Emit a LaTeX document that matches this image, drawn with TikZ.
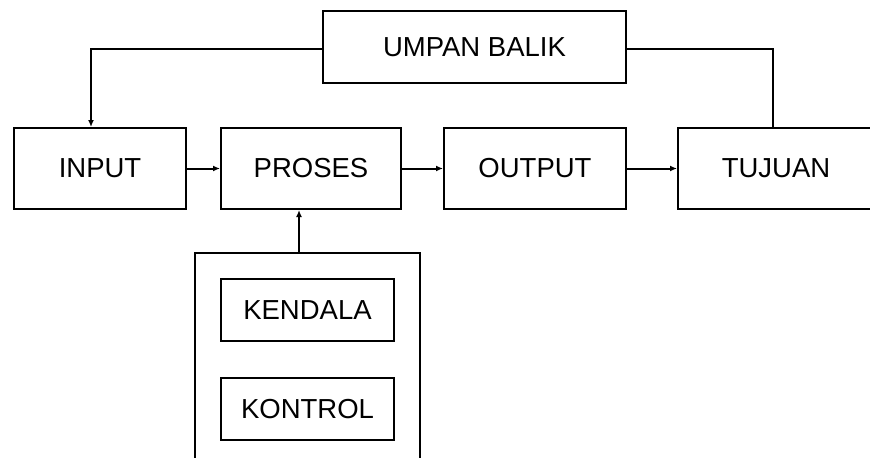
\documentclass[tikz,border=0pt]{standalone}
\usepackage{fontspec}
\setmainfont{Liberation Sans}
\usepackage{tikz}
\usetikzlibrary{arrows.meta}
\usetikzlibrary{calc}

\begin{document}
\begin{tikzpicture}[x=0.5pt,y=-0.5pt,
		blok/.style={draw, line width=1pt, rectangle, inner sep=0pt,
			font=\fontsize{13.75}{16}\selectfont},
		panah/.style={line width=1pt, -{Latex[length=3.5pt,width=3pt]}}]
			\clip (0,0) rectangle (870,457);
			% Baris utama
			\node[blok, minimum width=86pt, minimum height=40.5pt] (input) at (100,168.5) {INPUT};
			\node[blok, minimum width=90pt, minimum height=40.5pt] (proses) at (311,168.5) {PROSES};
			\node[blok, minimum width=91pt, minimum height=40.5pt] (output) at (535,168.5) {OUTPUT};
			\node[blok, minimum width=98pt, minimum height=40.5pt] (tujuan) at (776,168.5) {TUJUAN};
			\node[blok, minimum width=151.5pt, minimum height=36pt] (umpan) at (474.5,47) {UMPAN BALIK};

			% Kotak kendala dan kontrol
			\node[blok, minimum width=112.5pt, minimum height=105pt] (sistem) at (307.5,358) {};
			\node[blok, minimum width=86.5pt, minimum height=31pt] (kendala) at (307.5,310) {KENDALA};
			\node[blok, minimum width=86.5pt, minimum height=31pt] (kontrol) at (307.5,409) {KONTROL};

			% Panah
			\draw[panah] (input.east) -- (proses.west);
			\draw[panah] (proses.east) -- (output.west);
			\draw[panah] (output.east) -- (tujuan.west);
			\draw[panah] ([xshift=-4.25pt]sistem.north) -- ([xshift=-4.25pt]sistem.north |- proses.south);
			\draw[panah] ([yshift=-1pt]umpan.west) -| ([xshift=-4.5pt]input.north);
			\draw[line width=1pt] ([yshift=-1pt]umpan.east) -| ([xshift=-1.5pt]tujuan.north);
		\end{tikzpicture}
\end{document}
